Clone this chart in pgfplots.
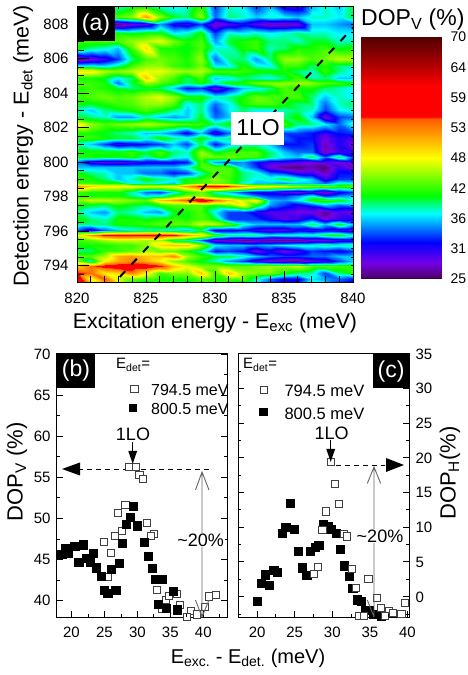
\documentclass[border=0pt]{standalone}
\usepackage{fontspec}
\setmainfont{Liberation Sans}
\usepackage{pgfplots}
\pgfplotsset{compat=1.18}
\newcount\colx
\def\heat{}
\def\sentinel{e}
\def\RowLoop#1 {\def\tmpv{#1}\ifx\tmpv\sentinel\else\xdef\heat{\heat(\the\colx,\yy,#1)}\global\advance\colx 1 \expandafter\RowLoop\fi}
\def\Row #1:#2;{\global\colx=820 \def\yy{#1}\RowLoop#2 e }
\Row 809:39 39 39 38 40 41 38 37 38 42 33 38 37 33 36 31 30 36 38 36 40;
\Row 808.4:41 41 42 42.5 44.5 52 44.5 40 39 44.5 34 39 38 36 38 37 36 38 38 37 40;
\Row 808:30 28 26 25.5 28 29 35 31 30 33 27 29 31 29 27 27 28 36 36 35 34;
\Row 807.5:41 42 41 41 40 41 41 37 38 41 33 38 37 38 37 38 39 38 38 37 37;
\Row 807:42 42 42.5 42.5 44.5 45.5 47 43.5 41 42.5 35 40 41 42 39 39 38 40 40 38 38;
\Row 806.6:41 39 38 36 42.5 49 41 41 40 42.5 38 38 41 42 38 39 41 41 42 40 41;
\Row 806:26 28 30 33 39 42.5 43.5 42.5 41 44.5 34 39 39 35 39 44.5 44.5 42.5 43.5 45.5 45.5;
\Row 805.6:38 38 37 39 42.5 44.5 44.5 42 41 43.5 37 37 41 38 37 42 42 39 41 39 38;
\Row 805.3:48.5 48.5 45.5 44.5 45.5 47 47 45.5 44.5 45.5 42.5 42.5 42 41 41 41 39 38 42 39 37;
\Row 804.9:41 41 40 37 39 50 44.5 42 39 42 36 37 39 38 37 39 42 38 39 36 36;
\Row 804.6:42.5 42 41 34 40 44.5 42.5 41 39 41 38 41 41 43.5 44.5 44.5 44.5 44.5 42.5 42 41;
\Row 804.3:41 42 41 40 39 40 39 36 32 33 28 32 36 37 39 42.5 41 41 39 38 37;
\Row 803.8:42 42.5 43.5 42.5 43.5 45.5 47 44.5 41 41 38 39 41 43.5 42.5 42 42.5 39 36 38 37;
\Row 803.4:41 40 41 42 42.5 44.5 44.5 42.5 37 39 34 37 41 42.5 42.5 41 39 39 34 38 39;
\Row 803:38 36 39 40 41 42.5 41 39 36 39 33 37 39 37 37 38 39 38 33 37 38;
\Row 802.6:40 39 38 35 35 38 36 35 36 40 34 36 42 41 39 39 41 36 28 33 34;
\Row 802.2:48.5 44.5 42.5 43.5 44.5 45.5 44.5 43.5 42.5 42 39 41 42 43.5 43.5 42.5 39 39 37 34 38;
\Row 801.7:41 41 40 39 38 36 36 34 31 36 30 34 36 36 33 33 33 32 30 32 33;
\Row 801.4:42 42 41 40 40 38 41 39 38 41 38 39 41 39 36 34 32 32 28 31 30;
\Row 801.05:38 36 33 30 31 32 33 36 33 39 32 36 38 38 36 32 32 33 27 31 28;
\Row 800.6:41 41 41 41 42 40 42.5 39 38 44.5 40 42 42.5 42.5 39 36 34 34 27 30 30;
\Row 800.3:41 41 40 40 41 38 41 38 37 43.5 43.5 43.5 42.5 42 39 37 36 40 34 40 33;
\Row 800:34 30 29 29 30 31 31 31 32 42 35 34 35 32 30 30 29 28 29 28 29;
\Row 799.75:36 36 36 36 36 36 36 36 38 42.5 42.5 42.5 36 33 28 26 25.5 27 25.5 30 27;
\Row 799.35:41 39 38 36 36 34 34 32 33 38 42.5 42.5 39 38 34 33 30 30 27 32 32;
\Row 799:41 41 39 36 38 41 39 38 41 42 44.5 42 39 37 38 40 38 36 30 33 33;
\Row 798.8:42 42 41 41 37 38 37 36 41 42.5 43.5 42.5 38 36 36 35 36 36 34 38 37;
\Row 798.6:53 49 48 48 48 47 47 48 52 56 58 55 52 49 48 47 45 44 44 42 43;
\Row 798.3:42 41 41 41 38 34 33 37 41 43.5 38 36 33 31 31 29 28 30 27 31 33;
\Row 798.05:41 41 41 41 39 37 38 42 44.5 44.5 41 40 38 35 33 33 35 38 33 35 36;
\Row 797.8:44 46 46 45 44 43 50 52 55 60 54 50 46 48 36 35 37 41 42 41 38;
\Row 797.5:41 40 39 41 40 39 41 42.5 42.5 42.5 41 43 48 41 35 33 31 33 36 34 35;
\Row 797.1:39 36 35 39 38 36 35 40 41 42.5 37 33 33 31 29 29 28 28 26 29 28;
\Row 796.7:41 39 38 41 41 40 41 42 41 42.5 40 33 33 33 31 29 30 33 28 30 31;
\Row 796.4:39 39 39 41 41 42 43 43 43 46 46 43 38 36 36 36 36 40 36 41 36;
\Row 796.1:34 30 34 36 37 38 38 37 36 39 31 31 32 30 29 29 31 30 31 30 29;
\Row 795.8:47 52 56 57 57 57 57 56 52 49 42 39 39 39 37 38 38 38 40 41 38;
\Row 795.5:42 43 45 46 46 45 45 39 38 34 28 27 25.5 27 26 25.5 26 28 28 30 30;
\Row 795.2:41 41 41 42 42 44 49 50 50 45 37 36 36 35 36 37 38 38 39 38 39;
\Row 794.85:39 39 42 42 43 45 43 43 41 38 32 33 32 28 31 28 30 33 32 31 33;
\Row 794.55:43 43 45 51 52 50 50 53 45 42 40 40 38 36 34 33 33 34 34 36 36;
\Row 794.25:44 38 48 51 53 51 48 44 42 40 38 35 33 30 28 27 26 29 30 33 36;
\Row 794:50 54 57 58 58 58 56 50 47 44 44 43 43 44 45 45 46 43 43 42 42;
\Row 793.6:56 54 48 49 53 48 42 44 44 50 42 50 45 44 44 41 39 38 33 39 41;
\Row 793.25:60 46 55 46 43 42 41 41 41 43 41 42 43 38 34 31 31 37 35 34 32;
\Row 793:56 50 52 48 41 39 41 41 39 41 41 41 38 37 33 31 33 39 37 33 31;
\newcommand{\fs}[1]{\fontsize{#1}{#1}\selectfont}
\pgfplotsset{
  dopmap/.style={colormap={dop}{rgb255(250)=(0,0,0) rgb255(253)=(80,0,110) rgb255(280)=(115,0,230) rgb255(318)=(0,0,255) rgb255(372)=(0,255,255) rgb255(405)=(0,255,0) rgb255(475)=(255,255,0) rgb255(548)=(255,90,0) rgb255(552)=(255,0,0) rgb255(610)=(255,0,0) rgb255(640)=(190,0,0) rgb255(700)=(80,0,0)}},
  base/.style={scale only axis, /pgf/number format/assume math mode=true, /pgf/number format/1000 sep={},
    tick label style={font=\fs{15}}, axis line style={line width=1pt}, major tick length=0pt, minor tick length=0pt},
  panel/.style={base, xtick pos=bottom, ytick pos=both, xlabel=\empty, xticklabel style={yshift=-6pt}},
  opm/.style={only marks, mark=square*, mark size=3.6pt, mark options={fill=white,draw=black!75,line width=0.9pt}},
  fim/.style={only marks, mark=square*, mark size=4.1pt, mark options={fill=black,draw=black}},
}
\begin{document}
\begin{tikzpicture}
\useasboundingbox (0pt,0pt) rectangle (467pt,675pt);
% panel a
\begin{axis}[base, dopmap, at={(77pt,392pt)}, anchor=south west, width=276pt, height=276pt, view={0}{90},
  xmin=820,xmax=840,ymin=793,ymax=809,zmin=0,zmax=100,point meta min=25,point meta max=70,
  xtick={820,825,...,840}, ytick={794,796,...,808},
  xtick pos=bottom, ytick pos=left, xticklabel style={yshift=-6pt}, yticklabel style={xshift=-5pt}]
\edef\temp{\noexpand\addplot3[surf,shader=interp,mesh/cols=21] coordinates {\heat};}\temp
\end{axis}
\begin{axis}[base, at={(77pt,392pt)}, anchor=south west, width=276pt, height=276pt,
  xmin=820,xmax=840,ymin=793,ymax=809, xtick=\empty, ytick=\empty]
\addplot[black, line width=2pt, dash pattern=on 8pt off 9pt] coordinates {(823.1,793.35)(840,807.8)};
\end{axis}
% colour bar
\begin{axis}[base, dopmap, at={(361pt,396pt)}, anchor=south west, width=80pt, height=242pt, view={0}{90},
  xmin=0,xmax=1,ymin=25,ymax=70,zmin=0,zmax=100,point meta min=25,point meta max=70,
  axis line style={draw=none}, xtick=\empty,
  ytick={25,30.625,36.25,41.875,47.5,53.125,58.75,64.375,70}, yticklabels={25,31,36,42,48,53,59,64,70},
  ytick pos=right, yticklabel pos=right, yticklabel style={xshift=6pt}, tick label style={font=\fs{14}}]
\addplot3[surf,shader=interp,mesh/cols=2] coordinates {(0,25,25)(1,25,25)(0,70,70)(1,70,70)};
\end{axis}
% panel b
\begin{axis}[panel, at={(57pt,58pt)}, anchor=south west, width=170pt, height=263pt,
  xmin=17.8,xmax=43.6,ymin=38,ymax=70, xtick={20,25,...,40},
  ytick={40,45,...,70}, yticklabel style={xshift=-3pt}]
\addplot[opm] coordinates {(24.9,47.1)(26.0,45.8)(25.5,42.9)(26.6,47.9)(27.1,50.7)(27.6,48.5)(28.2,51.6)(28.8,56.3)(29.8,56.3)(30.3,55.3)(30.9,54.8)(31.4,49.4)(32.5,48.1)(32,47.9)(33,41.3)(33.7,39)(34.3,40.1)(34.8,40.6)(36,40.8)(36.5,39.5)(38.1,38.7)(37.5,38)(39,38.3)(40.3,39.2)(40.9,40.5)(41.9,40.7)};
\addplot[fim] coordinates {(18.5,45.6)(19,46.4)(19.5,45.8)(20.5,46.6)(21.8,46.8)(21.1,44.7)(22.2,45.2)(22.8,44.7)(23.3,45.8)(23.8,44)(24.5,43)(25,41.3)(25.5,40.9)(26,43.8)(26.7,41.3)(27.2,44.5)(27.7,47)(28.3,49.3)(28.9,50.1)(29.4,51.5)(30,49.1)(31,47.1)(31.6,45.4)(32.2,43.9)(32.7,42.6)(33.8,42.6)(33.2,39.6)(34.4,39.1)(35.4,41.1)(36,38.9)};
\addplot[black, line width=0.9pt, dash pattern=on 5pt off 4pt] coordinates {(21,55.9)(41,55.9)};
\end{axis}
% panel c
\begin{axis}[panel, at={(238.3pt,58pt)}, anchor=south west, width=170.7pt, height=263pt,
  xmin=17.5,xmax=40.2,ymin=-2.9,ymax=35, xtick={20,25,...,40},
  ytick={0,5,...,35}, yticklabel pos=right, yticklabel style={xshift=3pt}]
\addplot[fim] coordinates {(20,-0.6)(20.5,2)(21.1,3.2)(21.6,1.7)(22.2,3.8)(22.7,3.6)(23.3,9.2)(23.8,10)(24.9,9.8)(24.4,13.5)(25.5,6.6)(26,4.2)(26.6,3.1)(27.1,6.6)(27.7,7.2)(28.2,7.5)(28.8,10.5)(29.4,10.2)(29.9,9.7)(30.5,9.2)(31.1,6.9)(31.6,4.5)(32.2,3)(32.7,1.3)(33.3,-0.4)(33.8,-0.6)(34.4,-1.9)(34.9,-1.9)(35.5,-2.5)(36.5,-2.8)};
\addplot[opm] coordinates {(29.8,19.4)(30.4,16.3)(30.9,13.4)(29.2,12.3)(28.7,9.7)(31.5,9.1)(32,8.7)(28.1,4.3)(27.6,3.3)(32.6,4)(33.1,1.3)(34.8,2.6)(35.9,-0.2)(36.5,-1.6)(37.5,-2.1)(38.1,-2.3)(39.2,-2.5)(39.7,-0.9)(33.6,-2.7)(34.2,-2.8)(37,-2.8)};
\addplot[black, line width=0.9pt, dash pattern=on 5pt off 4pt] coordinates {(30.5,18.9)(37,18.9)};
\end{axis}
% annotations, in picture pixels from the top left
\begin{scope}[x=1pt,y=-1pt,shift={(0pt,675pt)}]
% inward ticks
\begin{scope}[line width=1pt,black]
\foreach \i in {0,...,20} \draw ({77+13.8*\i},283)--({77+13.8*\i},276) ({77+13.8*\i},7)--({77+13.8*\i},9);
\foreach \i in {0,...,4} \draw ({77+69*\i},283)--({77+69*\i},271);
\foreach \i in {0,...,32} \draw (77,{7+8.625*\i})--(84,{7+8.625*\i}) (353,{7+8.625*\i})--(351,{7+8.625*\i});
\foreach \i in {0,...,7} \draw (77,{265.75-34.5*\i})--(89,{265.75-34.5*\i});
\foreach \i in {0,...,9} \draw ({71.7+16.45*\i},617)--({71.7+16.45*\i},614);
\foreach \i in {0,...,4} \draw ({71.7+32.9*\i},617)--({71.7+32.9*\i},611);
\foreach \i in {0,...,12} \draw (57,{600.7-20.55*\i})--(60,{600.7-20.55*\i}) (227,{600.7-20.55*\i})--(224,{600.7-20.55*\i});
\foreach \i in {0,...,6} \draw (57,{600.7-41.1*\i})--(63,{600.7-41.1*\i}) (227,{600.7-41.1*\i})--(221,{600.7-41.1*\i});
\foreach \i in {0,...,8} \draw ({257+18.83*\i},617)--({257+18.83*\i},614);
\foreach \i in {0,...,4} \draw ({257+37.67*\i},617)--({257+37.67*\i},611);
\foreach \i in {-1,...,14} \draw (238.3,{596.7-17.35*\i})--(241.3,{596.7-17.35*\i}) (409,{596.7-17.35*\i})--(406,{596.7-17.35*\i});
\foreach \i in {0,...,7} \draw (238.3,{596.7-34.7*\i})--(244.3,{596.7-34.7*\i}) (409,{596.7-34.7*\i})--(403,{596.7-34.7*\i});
\end{scope}
\fill[black] (77,7) rectangle (115,41);
\node[white,font=\fs{23}] at (96,25) {(a)};
\fill[white] (231,112) rectangle (284,145);
\node[font=\fs{23}] at (258,128) {1LO};
\node[font=\fs{21.3}] at (215,323) {Excitation energy - E\textsubscript{exc} (meV)};
\node[font=\fs{21.5},rotate=90] at (23,146) {Detection energy - E\textsubscript{det} (meV)};
\node[font=\fs{23},anchor=west,inner sep=0pt] at (361,20) {DOP\textsubscript{V} (\%)};
% b
\fill[black] (57,354) rectangle (95,388);
\node[white,font=\fs{23}] at (76,371) {(b)};
\node[font=\fs{15},anchor=west,inner sep=0pt] at (116,365) {E\textsubscript{det}=};
\node[font=\fs{16},anchor=west,inner sep=0pt] at (151,390) {794.5 meV};
\node[font=\fs{16},anchor=west,inner sep=0pt] at (151,409) {800.5 meV};
\node[fill=white,draw=black!75,line width=0.9pt,minimum size=7.5pt,inner sep=0pt] at (134.3,389) {};
\node[fill=black,minimum size=8.5pt,inner sep=0pt] at (133,408) {};
\node[font=\fs{18}] at (133,434) {1LO};
\draw[line width=0.8pt] (132.7,442)--(132.7,455);
\fill (128.3,451)--(137.1,451)--(132.7,464)--cycle;
\fill (62,469)--(80,462.5)--(80,475.5)--cycle;
\draw[black!60,line width=0.9pt] (202,617)--(202,472) (195.5,490)--(202,472)--(209,490) (195.5,600)--(202,617)--(209,600);
\node[font=\fs{18},fill=white,inner sep=1pt] at (200.7,540) {\textasciitilde 20\%};
\node[font=\fs{22},rotate=90] at (17,472) {DOP\textsubscript{V} (\%)};
% c
\fill[black] (372.7,354) rectangle (409,388);
\node[white,font=\fs{23}] at (391,372) {(c)};
\node[font=\fs{15},anchor=west,inner sep=0pt] at (243,365) {E\textsubscript{det}=};
\node[font=\fs{16.5},anchor=west,inner sep=0pt] at (284.3,391) {794.5 meV};
\node[font=\fs{16.5},anchor=west,inner sep=0pt] at (284.3,414) {800.5 meV};
\node[fill=white,draw=black!75,line width=0.9pt,minimum size=7.5pt,inner sep=0pt] at (263.7,390) {};
\node[fill=black,minimum size=8.5pt,inner sep=0pt] at (263.7,412) {};
\node[font=\fs{18}] at (331.7,433) {1LO};
\draw[line width=0.8pt] (330.7,440)--(330.7,453);
\fill (326.3,449)--(335.1,449)--(330.7,462)--cycle;
\fill (404,465)--(386,458)--(386,472)--cycle;
\draw[black!60,line width=0.9pt] (374,617)--(374,467) (367.3,483.5)--(374,467)--(380.7,483.5) (367.3,600)--(374,617);
\node[font=\fs{18},fill=white,inner sep=1pt] at (380,536) {\textasciitilde 20\%};
\node[font=\fs{22},rotate=90] at (450,473) {DOP\textsubscript{H}(\%)};
\node[font=\fs{20}] at (248,658) {E\textsubscript{exc.} - E\textsubscript{det.} (meV)};
\end{scope}
\end{tikzpicture}
\end{document}
